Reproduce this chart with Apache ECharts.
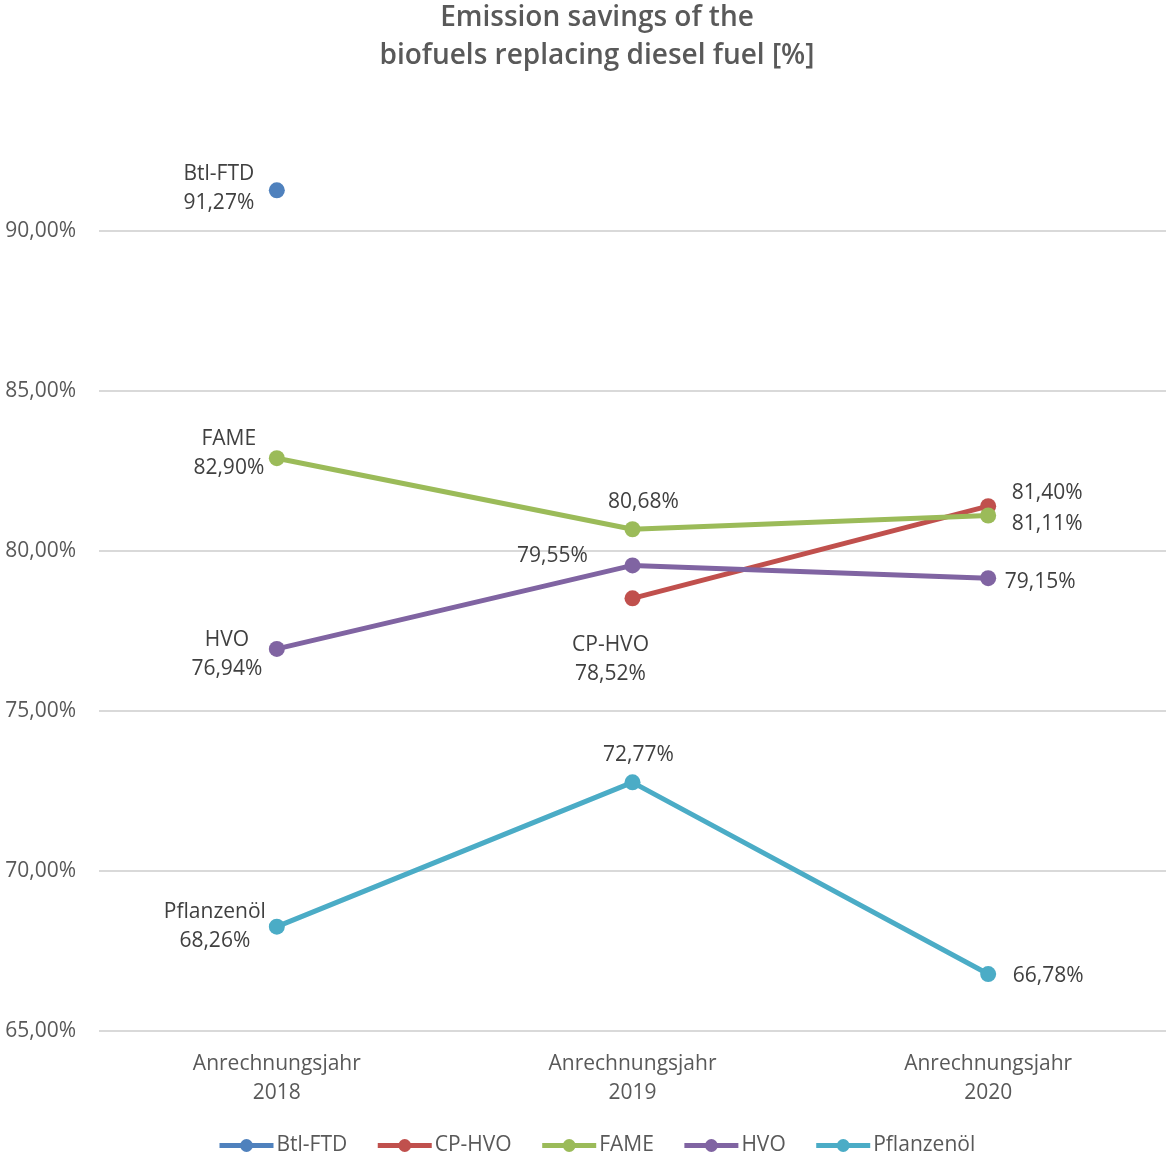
<!DOCTYPE html>
<html><head><meta charset="utf-8">
<script src="https://cdn.jsdelivr.net/npm/echarts@6/dist/echarts.min.js"></script>
<style>html,body{margin:0;padding:0;background:#fff}#c{width:1166px;height:1159px}</style>
</head><body><div id="c"></div>
<script>
const categories = ['Anrechnungsjahr\n2018', 'Anrechnungsjahr\n2019', 'Anrechnungsjahr\n2020'];
const seriesNames = ['Btl-FTD', 'CP-HVO', 'FAME', 'HVO', 'Pflanzenöl'];
const btlFtd = [91.27, null, null];
const cpHvo = [null, 78.52, 81.40];
const fame = [82.90, 80.68, 81.11];
const hvo = [76.94, 79.55, 79.15];
const pflanzenoel = [68.26, 72.77, 66.78];
const yTicks = [65, 70, 75, 80, 85, 90, 95];

const colors = ['#4f81bd', '#c0504d', '#9bbb59', '#8064a2', '#4bacc6'];
const values = [btlFtd, cpHvo, fame, hvo, pflanzenoel];
// label layout: [offsetX, offsetY, showName] per point
const labelLayout = [
  [[-58, -2, true], null, null],
  [null, [-22, 61, true], [59, -13, false]],
  [[-48, -5, true], [11, -27, false], [59, 9, false]],
  [[-50, 6, true], [-80, -9, false], [52, 4, false]],
  [[-62, 0, true], [6, -27, false], [60, 2, false]]
];
const fmt = v => v.toFixed(2).replace('.', ',') + '%';
const FONT = 'Open Sans';

const series = seriesNames.map((name, si) => ({
  name, type: 'line', symbol: 'circle', symbolSize: 16,
  lineStyle: { width: 5, color: colors[si] },
  itemStyle: { color: colors[si] },
  connectNulls: false,
  z: 2 + si,
  data: values[si].map((v, i) => {
    if (v === null) return null;
    const L = labelLayout[si][i];
    return {
      value: v,
      label: {
        show: true, position: 'inside', align: 'center', verticalAlign: 'middle',
        offset: [L[0], L[1]],
        formatter: L[2] ? name + '\n' + fmt(v) : fmt(v),
        color: '#404040', fontSize: 21, fontFamily: FONT, lineHeight: 29
      }
    };
  })
}));

const chart = echarts.init(document.getElementById('c'), null, { renderer: 'canvas' });
chart.setOption({
  animation: false,
  backgroundColor: '#fff',
  color: colors,
  title: {
    text: 'Emission savings of the\nbiofuels replacing diesel fuel [%]',
    left: 592, textAlign: 'center', top: -6,
    textStyle: { fontFamily: FONT, fontSize: 28, fontWeight: 600, color: '#595959', lineHeight: 38 }
  },
  legend: {
    bottom: -2, left: 212, itemWidth: 54, itemHeight: 16, itemGap: 28,
    data: seriesNames,
    lineStyle: { width: 5 },
    textStyle: { fontFamily: FONT, fontSize: 21, color: '#595959', padding: [0, 0, 0, -2] }
  },
  grid: { left: 99, right: 0, top: 71, bottom: 128, containLabel: false },
  xAxis: {
    type: 'category', data: categories, boundaryGap: true,
    axisLine: { show: false }, axisTick: { show: false },
    axisLabel: { fontFamily: FONT, fontSize: 21, color: '#595959', lineHeight: 29, margin: 19 }
  },
  yAxis: {
    type: 'value', min: yTicks[0], max: yTicks[yTicks.length - 1], interval: 5,
    axisLine: { show: false }, axisTick: { show: false },
    axisLabel: {
      fontFamily: FONT, fontSize: 21, color: '#595959', margin: 23,
      formatter: v => v === yTicks[yTicks.length - 1] ? '' : v.toFixed(2).replace('.', ',') + '%'
    },
    splitLine: { lineStyle: { width: 2, color: ['#d9d9d9', '#d9d9d9', '#d9d9d9', '#d9d9d9', '#d9d9d9', '#d9d9d9', 'rgba(0,0,0,0)'] } }
  },
  series
});
</script></body></html>
